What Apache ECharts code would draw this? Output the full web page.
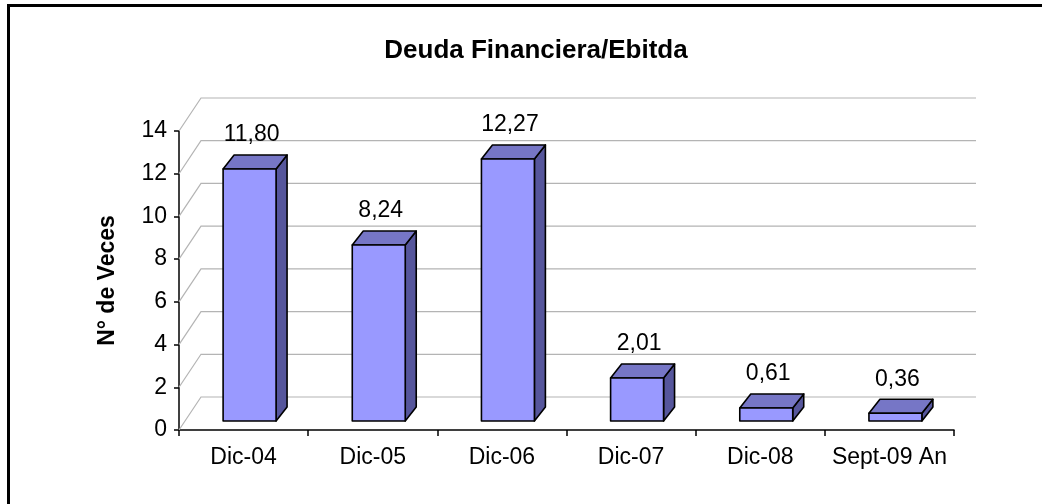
<!DOCTYPE html>
<html>
<head>
<meta charset="utf-8">
<script src="https://cdn.jsdelivr.net/npm/echarts@6/dist/echarts.min.js"></script>
<style>
  html, body { margin: 0; padding: 0; background: #fff; }
  #chart { width: 1042px; height: 504px; }
</style>
</head>
<body>
<div id="chart"></div>
<script>
// datos del grafico
const categories = ['Dic-04', 'Dic-05', 'Dic-06', 'Dic-07', 'Dic-08', 'Sept-09 An'];
const ratios = [11.80, 8.24, 12.27, 2.01, 0.61, 0.36];
const yTicks = [0, 2, 4, 6, 8, 10, 12, 14];

const FONT = 'Liberation Sans, Arial, sans-serif';
const wallDepth = [22, -33]; // fondo de las paredes
const barShift = [6, -9];    // cara frontal de la barra metida hacia el fondo
const barDepth = [11, -14];  // profundidad de la barra

const myChart = echarts.init(document.getElementById('chart'));

function fmt(v) {
  return v.toFixed(2).replace('.', ',');
}

const option = {
  backgroundColor: '#fff',
  animation: false,
  title: {
    text: 'Deuda Financiera/Ebitda',
    left: 531,
    top: 33,
    textAlign: 'center',
    textStyle: { fontFamily: FONT, fontSize: 26, fontWeight: 'bold', color: '#000' }
  },
  grid: { left: 179, right: 88, top: 131, bottom: 74 },
  xAxis: {
    type: 'category',
    data: categories,
    boundaryGap: true,
    axisLine: { lineStyle: { color: '#000', width: 1.5 } },
    axisTick: { show: true, interval: 0, length: 6, lineStyle: { color: '#000', width: 1.5 } },
    axisLabel: { interval: 0, margin: 16, fontFamily: FONT, fontSize: 23, color: '#000' },
    splitLine: { show: false }
  },
  yAxis: {
    type: 'value',
    min: 0,
    max: 14,
    interval: 2,
    name: 'N° de Veces',
    nameLocation: 'middle',
    nameRotate: 90,
    nameGap: 60,
    nameTextStyle: { fontFamily: FONT, fontSize: 23, fontWeight: 'bold', color: '#000' },
    axisLine: { show: true, lineStyle: { color: '#000', width: 1.5 } },
    axisTick: { show: true, length: 5, lineStyle: { color: '#000', width: 1.5 } },
    axisLabel: { margin: 12, fontFamily: FONT, fontSize: 23, color: '#000' },
    splitLine: { show: false }
  },
  graphic: [{
    type: 'rect',
    shape: { x: 8.5, y: 5.5, width: 1200, height: 700 },
    style: { fill: 'none', stroke: '#000', lineWidth: 3 },
    silent: true
  }],
  series: [
    {
      // paredes: lineas de division en el fondo
      type: 'custom',
      data: yTicks.map(v => [0, v]),
      encode: { x: 0, y: 1 },
      silent: true,
      z: 1,
      renderItem(params, api) {
        const cs = params.coordSys;
        const y = api.coord([0, api.value(1)])[1];
        const x0 = cs.x;
        return {
          type: 'polyline',
          shape: {
            points: [
              [x0, y],
              [x0 + wallDepth[0], y + wallDepth[1]],
              [x0 + cs.width + wallDepth[0], y + wallDepth[1]]
            ]
          },
          style: { fill: 'none', stroke: '#b4b4b4', lineWidth: 1.2 }
        };
      }
    },
    {
      // barras 3D
      type: 'custom',
      data: ratios.map((v, i) => [i, v]),
      encode: { x: 0, y: 1 },
      z: 3,
      renderItem(params, api) {
        const i = api.value(0);
        const v = api.value(1);
        const base = api.coord([i, 0]);
        const top = api.coord([i, v]);
        const band = api.size([1, 0])[0];
        const w = band * 0.41;
        const fx = base[0] - w / 2 + barShift[0];
        const fy0 = base[1] + barShift[1];
        const fy1 = top[1] + barShift[1];
        const dx = barDepth[0], dy = barDepth[1];
        const line = { stroke: '#000', lineWidth: 1.6, lineJoin: 'round' };
        return {
          type: 'group',
          children: [
            {
              type: 'polygon',
              shape: { points: [[fx + w, fy1], [fx + w + dx, fy1 + dy], [fx + w + dx, fy0 + dy], [fx + w, fy0]] },
              style: Object.assign({ fill: '#56569c' }, line)
            },
            {
              type: 'polygon',
              shape: { points: [[fx, fy1], [fx + dx, fy1 + dy], [fx + w + dx, fy1 + dy], [fx + w, fy1]] },
              style: Object.assign({ fill: '#7676c6' }, line)
            },
            {
              type: 'rect',
              shape: { x: fx, y: fy1, width: w, height: fy0 - fy1 },
              style: Object.assign({ fill: '#9999ff' }, line)
            },
            {
              type: 'text',
              style: {
                x: base[0] + 8,
                y: fy1 + dy - 20,
                text: fmt(v),
                textAlign: 'center',
                textVerticalAlign: 'middle',
                fontFamily: FONT,
                fontSize: 23,
                fill: '#000'
              }
            }
          ]
        };
      }
    }
  ]
};

myChart.setOption(option);
</script>
</body>
</html>
